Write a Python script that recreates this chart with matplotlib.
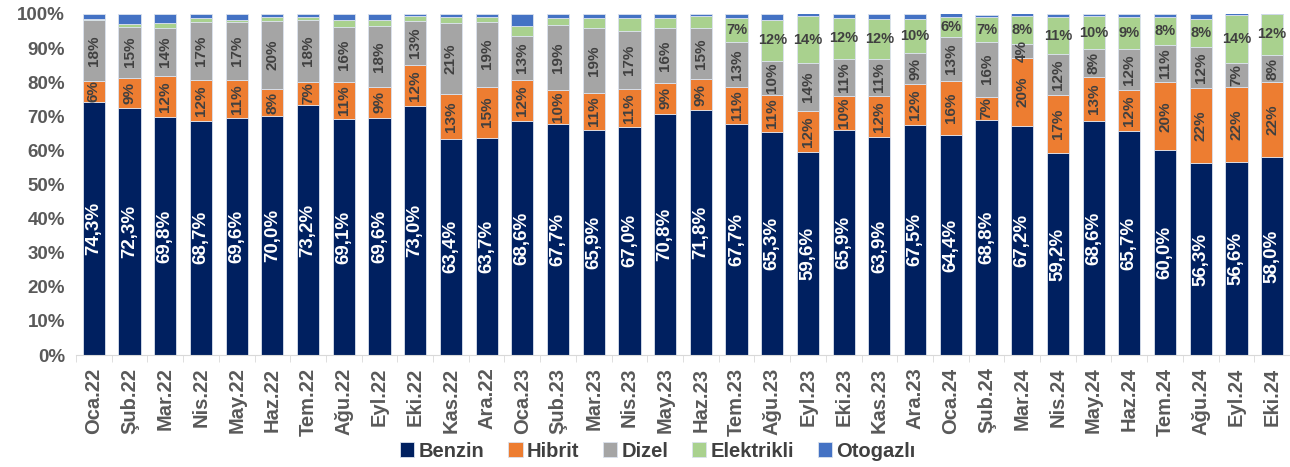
import matplotlib
matplotlib.use("Agg")
import matplotlib.pyplot as plt
from matplotlib.ticker import FixedLocator

plt.rcParams['font.family'] = ['Liberation Sans', 'DejaVu Sans']

months = ['Oca.22', 'Şub.22', 'Mar.22', 'Nis.22', 'May.22', 'Haz.22', 'Tem.22', 'Ağu.22', 'Eyl.22', 'Eki.22',
          'Kas.22', 'Ara.22', 'Oca.23', 'Şub.23', 'Mar.23', 'Nis.23', 'May.23', 'Haz.23', 'Tem.23', 'Ağu.23',
          'Eyl.23', 'Eki.23', 'Kas.23', 'Ara.23', 'Oca.24', 'Şub.24', 'Mar.24', 'Nis.24', 'May.24', 'Haz.24',
          'Tem.24', 'Ağu.24', 'Eyl.24', 'Eki.24']

benzin = [74.3, 72.3, 69.8, 68.7, 69.6, 70.0, 73.2, 69.1, 69.6, 73.0, 63.4, 63.7, 68.6, 67.7, 65.9, 67.0, 70.8,
          71.8, 67.7, 65.3, 59.6, 65.9, 63.9, 67.5, 64.4, 68.8, 67.2, 59.2, 68.6, 65.7, 60.0, 56.3, 56.6, 58.0]
hibrit = [6, 9, 12, 12, 11, 8, 7, 11, 9, 12, 13, 15, 12, 10, 11, 11, 9, 9, 11, 11, 12, 10, 12, 12, 16, 7, 20,
          17, 13, 12, 20, 22, 22, 22]
dizel = [18, 15, 14, 17, 17, 20, 18, 16, 18, 13, 21, 19, 13, 19, 19, 17, 16, 15, 13, 10, 14, 11, 11, 9, 13, 16,
         4, 12, 8, 12, 11, 12, 7, 8]
elektrikli = [0.3, 0.7, 1.6, 1.0, 0.5, 1.2, 1.0, 2.0, 1.5, 1.3, 1.8, 1.5, 3.0, 2.2, 3.0, 3.9, 3.0, 3.6, 7.1,
              12.0, 13.8, 12.0, 11.6, 10.0, 5.6, 7.2, 8.2, 10.8, 9.8, 9.3, 8.0, 8.1, 14.0, 12.0]
otogazli = [1.4, 3.0, 2.6, 1.3, 1.9, 0.8, 0.8, 1.9, 1.9, 0.7, 0.8, 0.8, 3.4, 1.1, 1.1, 1.1, 1.2, 0.6, 1.2, 1.7,
            1.3, 1.1, 1.5, 1.5, 1.3, 0.8, 1.0, 1.0, 0.6, 1.0, 1.0, 1.5, 1.0, 0.5]
yticks = [0, 10, 20, 30, 40, 50, 60, 70, 80, 90, 100]

names = ['Benzin', 'Hibrit', 'Dizel', 'Elektrikli', 'Otogazlı']
colors = ['#002060', '#ED7D31', '#A5A5A5', '#A9D18E', '#4472C4']
series = [benzin, hibrit, dizel, elektrikli, otogazli]

fig = plt.figure(figsize=(12.9, 4.67), dpi=100)
ax = fig.add_axes([76 / 1290, 1 - 355 / 467, 1 - 76 / 1290, 341 / 467])

x = list(range(len(months)))
bottom = [0] * len(months)
for name, col, vals in zip(names, colors, series):
    ax.bar(x, vals, 0.62, bottom=bottom, color=col, label=name, edgecolor='#dbe2ee', linewidth=0.6)
    for i, v in enumerate(vals):
        mid = bottom[i] + v / 2
        if name == 'Benzin':
            ax.text(i, mid, f'{v:.1f}%'.replace('.', ','), rotation=90, ha='center', va='center',
                    color='white', fontsize=13.5, fontweight='bold')
        elif name in ('Hibrit', 'Dizel'):
            ax.text(i, mid, f'{v:.0f}%', rotation=90, ha='center', va='center',
                    color='#404040', fontsize=11, fontweight='bold')
        elif name == 'Elektrikli' and i >= 18:
            ax.text(i, mid, f'{round(v)}%', ha='center', va='center',
                    color='#404040', fontsize=10.5, fontweight='bold')
    bottom = [b + v for b, v in zip(bottom, vals)]

ax.set_xlim(-0.5, len(months) - 0.5)
ax.set_ylim(0, 100)
ax.set_yticks(yticks)
ax.set_yticklabels([f'{t}%' for t in yticks], fontsize=13.5, fontweight='bold', color='#595959')
ax.set_xticks(x)
ax.set_xticklabels(months, rotation=90, fontsize=14.5, fontweight='bold', color='#595959')
ax.xaxis.set_minor_locator(FixedLocator([i - 0.5 for i in range(len(months) + 1)]))
ax.tick_params(axis='x', which='major', length=0, pad=9)
ax.tick_params(axis='x', which='minor', length=5, color='#d9d9d9')
ax.tick_params(axis='y', length=0, pad=8)
for s in ['top', 'right', 'left']:
    ax.spines[s].set_visible(False)
ax.spines['bottom'].set_color('#d9d9d9')

fig.legend(loc='lower center', bbox_to_anchor=(0.51, -0.025), ncol=5, frameon=False,
           prop={'size': 14.5, 'weight': 'bold'}, handlelength=0.7, handleheight=0.7,
           handletextpad=0.2, columnspacing=1.2, labelcolor='#404040')

fig.savefig('out.png', dpi=100)
